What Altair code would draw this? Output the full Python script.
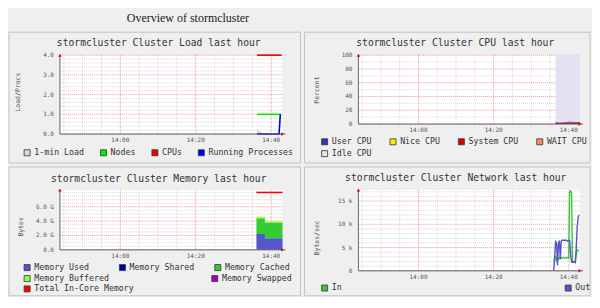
import altair as alt
import pandas as pd

MONO = "DejaVu Sans Mono"
SERIF = "Liberation Serif"
DAY = "2024-01-01T"

OVERVIEW_TITLE = "Overview of stormcluster"
PANEL_TITLES = [
    "stormcluster Cluster Load last hour",
    "stormcluster Cluster CPU last hour",
    "stormcluster Cluster Memory last hour",
    "stormcluster Cluster Network last hour",
]
Y_TITLES = ["Load/Procs", "Percent", "Bytes", "Bytes/sec"]

X_START = "13:44"
X_END = "14:43"
X_LABELS = ["14:00", "14:20", "14:40"]
X_MINOR = ["13:45", "13:50", "13:55", "14:05", "14:10", "14:15",
           "14:25", "14:30", "14:35"]

# ---------------- Load panel ----------------
LOAD_SERIES = ["1-min Load", "Nodes", "CPUs", "Running Processes"]
LOAD_COLORS = ["#dcdcdc", "#00ee00", "#ee0000", "#0000ee"]
LOAD1_T = ["14:36:15", "14:36:45", "14:37:15", "14:37:45", "14:38:15"]
LOAD1_V = [0.25, 0.2, 0.12, 0.05, 0.0]
NODES_T = ["14:36:15", "14:42:30"]
NODES_V = [1.0, 1.0]
CPUS_T = ["14:36:15", "14:42:45"]
CPUS_V = [4.0, 4.0]
PROCS_T = ["14:36:15", "14:42:05", "14:42:25"]
PROCS_V = [0.0, 0.0, 1.0]
LOAD_Y_LABELS = [0.0, 1.0, 2.0, 3.0, 4.0]
LOAD_Y_TEXT = ["0.0", "1.0", "2.0", "3.0", "4.0"]
LOAD_Y_MINOR = [0.2, 0.4, 0.6, 0.8, 1.2, 1.4, 1.6, 1.8, 2.2, 2.4, 2.6, 2.8,
                3.2, 3.4, 3.6, 3.8]

# ---------------- CPU panel ----------------
CPU_SERIES = ["User CPU", "Nice CPU", "System CPU", "WAIT CPU", "Idle CPU"]
CPU_COLORS = ["#3333bb", "#ffea00", "#dd0000", "#ff8a60", "#e2e2f2"]
CPU_T = ["14:36:30", "14:37:30", "14:38:30", "14:39:30", "14:40:30",
         "14:41:30", "14:42:30", "14:43:00"]
CPU_USER = [2.0, 1.6, 1.8, 2.1, 2.4, 1.9, 2.0, 2.0]
CPU_NICE = [0, 0, 0, 0, 0, 0, 0, 0]
CPU_SYSTEM = [1.0, 0.8, 0.9, 1.1, 1.3, 1.0, 0.9, 0.9]
CPU_WAIT = [0.2, 0.2, 0.2, 0.2, 0.2, 0.2, 0.2, 0.2]
CPU_IDLE = [96.8, 97.4, 97.1, 96.6, 96.1, 96.9, 96.9, 96.9]
CPU_Y_LABELS = [0, 20, 40, 60, 80, 100]
CPU_Y_TEXT = ["0", "20", "40", "60", "80", "100"]
CPU_Y_MINOR = [10, 30, 50, 70, 90]

# ---------------- Memory panel ----------------
MEM_SERIES = ["Memory Used", "Memory Shared", "Memory Cached",
              "Memory Buffered", "Memory Swapped"]
MEM_COLORS = ["#5555cc", "#0000aa", "#33cc33", "#99ff33", "#9900cc"]
MEM_T = ["14:36:05", "14:38:20", "14:43:00"]
MEM_USED = [2.2, 1.6, 1.6]
MEM_SHARED = [0.0, 0.0, 0.0]
MEM_CACHED = [2.2, 2.2, 2.2]
MEM_BUFFERED = [0.2, 0.2, 0.2]
MEM_SWAPPED = [0.0, 0.0, 0.0]
TOTAL_SERIES = ["Total In-Core Memory"]
TOTAL_COLORS = ["#ff0000"]
TOTAL_T = ["14:36:05", "14:43:00"]
TOTAL_V = [8.0, 8.0]
MEM_Y_LABELS = [0.0, 2.0, 4.0, 6.0]
MEM_Y_TEXT = ["0.0", "2.0 G", "4.0 G", "6.0 G"]
MEM_Y_MINOR = [0.5, 1.0, 1.5, 2.5, 3.0, 3.5, 4.5, 5.0, 5.5, 6.5, 7.0, 7.5, 8.0]

# ---------------- Network panel ----------------
NET_SERIES = ["In", "Out"]
NET_COLORS = ["#33cc33", "#5555cc"]
NET_T = ["14:36:00", "14:36:15", "14:36:30", "14:36:45", "14:37:00", "14:37:15",
         "14:37:30", "14:37:45", "14:38:00", "14:38:15", "14:38:30", "14:38:45",
         "14:39:00", "14:39:15", "14:39:30", "14:39:45", "14:40:00", "14:40:15",
         "14:40:30", "14:40:45", "14:41:00", "14:41:15", "14:41:30", "14:41:45",
         "14:42:00", "14:42:15", "14:42:30", "14:42:45"]
NET_IN = [2200, 2600, 3000, 2000, 3200, 2500, 2800, 2600,
          2800, 2700, 2900, 2800, 2700, 2800, 2900, 2800,
          2700, 17000, 17200, 16800, 2000, 1800, 1900, 2000,
          3500, 4500, 4400, 4400]
NET_OUT = [0, 3000, 6300, 6000, 1200, 5800, 6500, 2500,
           6400, 6600, 6500, 6600, 6500, 6600, 6500, 6400,
           6600, 6500, 3500, 1900, 1800, 1900, 2000, 1800,
           5000, 9500, 11500, 12000]
NET_Y_LABELS = [0, 5000, 10000, 15000]
NET_Y_TEXT = ["0", "5 k", "10 k", "15 k"]
NET_Y_MINOR = [1000, 2000, 3000, 4000, 6000, 7000, 8000, 9000,
               11000, 12000, 13000, 14000, 16000, 17000]

# ---------------- styles ----------------
BG = "#efefef"
FRAME = "#c4c4c4"
MAJOR = "#ee9a9a"
MINOR = "#d8d8d8"
AXIS_TXT = "#555555"
AXIS_LINE = "#666666"


def dt(hm):
    parts = [int(p) for p in hm.split(":")]
    return alt.DateTime(year=2024, month=1, date=1, hours=parts[0], minutes=parts[1])


def long_table(times, names, series):
    rows = []
    for k, (name, vals) in enumerate(zip(names, series)):
        for ts, v in zip(times, vals):
            rows.append({"t": DAY + ts, "series": name, "v": v, "k": k})
    return pd.DataFrame(rows)


def single_table(times, name, vals):
    return pd.DataFrame({"t": [DAY + s for s in times], "series": name, "v": vals})


X_SCALE = alt.Scale(domain=[dt(X_START), dt(X_END)], nice=False)


def xenc():
    return alt.X("t:T", scale=X_SCALE, axis=None)


def yenc(sc, **kw):
    return alt.Y("v:Q", scale=sc, axis=None, **kw)


def grid_layers(y_scale, y_minor, y_major):
    xm = pd.DataFrame({"t": [DAY + s + ":00" for s in X_MINOR]})
    xM = pd.DataFrame({"t": [DAY + s + ":00" for s in X_LABELS]})
    ym = pd.DataFrame({"v": y_minor})
    yM = pd.DataFrame({"v": y_major})
    return [
        alt.Chart(xm).mark_rule(color=MINOR, strokeDash=[1, 1], strokeWidth=1).encode(x=xenc()),
        alt.Chart(ym).mark_rule(color=MINOR, strokeDash=[1, 1], strokeWidth=1).encode(y=yenc(y_scale)),
        alt.Chart(xM).mark_rule(color=MAJOR, strokeDash=[1, 1], strokeWidth=1).encode(x=xenc()),
        alt.Chart(yM).mark_rule(color=MAJOR, strokeDash=[1, 1], strokeWidth=1).encode(y=yenc(y_scale)),
    ]


def axis_layers(idx, w, h, y_scale, y_vals, y_text, title_xy):
    adf = pd.DataFrame({"title": [Y_TITLES[idx]]})
    xl = pd.DataFrame({"t": [DAY + s + ":00" for s in X_LABELS], "lab": X_LABELS})
    yl = pd.DataFrame({"v": y_vals, "lab": y_text})
    y_dom = alt.Chart(adf).mark_rule(color=AXIS_LINE, strokeWidth=1).encode(
        x=alt.value(0), y=alt.value(0), y2=alt.value(h))
    x_dom = alt.Chart(adf).mark_rule(color=AXIS_LINE, strokeWidth=1).encode(
        x=alt.value(0), x2=alt.value(w + 3), y=alt.value(h))
    x_lab = alt.Chart(xl).mark_text(font=MONO, fontSize=6, color=AXIS_TXT,
                                    align="center", baseline="middle").encode(
        x=xenc(), y=alt.value(h + 6), text="lab:N")
    y_lab = alt.Chart(yl).mark_text(font=MONO, fontSize=6, color=AXIS_TXT,
                                    align="right", baseline="middle").encode(
        y=yenc(y_scale), x=alt.value(-6), text="lab:N")
    y_tit = alt.Chart(adf).mark_text(font=MONO, fontSize=6.5, color=AXIS_TXT, angle=270,
                                     align="center", baseline="middle").encode(
        x=alt.value(title_xy[0]), y=alt.value(title_xy[1]), text="title:N")
    return [y_dom, x_dom, x_lab, y_lab, y_tit]


def legend_layer(names, colors, lx, ly, columns, colpad, grid_align="each"):
    df = pd.DataFrame({"series": names})
    return alt.Chart(df).mark_point(filled=True, opacity=0).encode(
        color=alt.Color(
            "series:N", sort=names,
            scale=alt.Scale(domain=names, range=colors),
            legend=alt.Legend(
                title=None, orient="none", legendX=lx, legendY=ly,
                direction="horizontal", columns=columns, columnPadding=colpad,
                gridAlign=grid_align, symbolType="square", symbolSize=36,
                labelFont=MONO, labelFontSize=8.3, labelColor="#333333",
                labelOffset=3, rowPadding=2, padding=0,
                symbolOpacity=1, symbolStrokeColor="#333333", symbolStrokeWidth=0.8,
            ),
        )
    )


def arrows(y_scale, y_max):
    top = pd.DataFrame({"t": [DAY + X_START + ":00"], "v": [y_max]})
    right = pd.DataFrame({"t": [DAY + X_END + ":00"], "v": [0]})
    a1 = alt.Chart(top).mark_point(shape="triangle-up", size=12, filled=True,
                                   color="#dd0000", opacity=1).encode(x=xenc(), y=yenc(y_scale))
    a2 = alt.Chart(right).mark_point(shape="triangle-right", size=12, filled=True,
                                     color="#dd0000", opacity=1).encode(x=xenc(), y=yenc(y_scale))
    return [a1, a2]


def panel(idx, w, h, data_layers, legends, y_scale, y_minor, y_major, y_text,
          title_xy, ytitle_xy, box):
    tdf = pd.DataFrame({"title": [PANEL_TITLES[idx]]})
    fr = alt.Chart(tdf).mark_rect(filled=False, color=FRAME, strokeWidth=1).encode(
        x=alt.value(box[0]), x2=alt.value(box[1]), y=alt.value(box[2]), y2=alt.value(box[3]))
    bgr = alt.Chart(tdf).mark_rect(fill="white").encode(
        x=alt.value(0), x2=alt.value(w), y=alt.value(0), y2=alt.value(h))
    tt = alt.Chart(tdf).mark_text(font=MONO, fontSize=9.7, color="#333333",
                                  align="center", baseline="alphabetic").encode(
        text="title:N", x=alt.value(title_xy[0]), y=alt.value(title_xy[1]))
    layers = [fr, bgr, tt, *grid_layers(y_scale, y_minor, y_major), *data_layers,
              *axis_layers(idx, w, h, y_scale, y_major, y_text, ytitle_xy),
              *arrows(y_scale, y_scale.domain[1]), *legends]
    return alt.layer(*layers).resolve_scale(color="independent").properties(width=w, height=h)


W_L, W_R = 223, 222
H_LOAD, H_CPU, H_MEM, H_NET = 79, 69, 60, 81

# ---- Load
y_load = alt.Scale(domain=[0, 4], nice=False)
load_lines_df = pd.concat([
    single_table(CPUS_T, LOAD_SERIES[2], CPUS_V),
    single_table(NODES_T, LOAD_SERIES[1], NODES_V),
    single_table(PROCS_T, LOAD_SERIES[3], PROCS_V),
])
load_area = alt.Chart(single_table(LOAD1_T, LOAD_SERIES[0], LOAD1_V)).mark_area(
    color=LOAD_COLORS[0], opacity=1).encode(x=xenc(), y=yenc(y_load))
load_lines = alt.Chart(load_lines_df).mark_line(strokeWidth=1.6).encode(
    x=xenc(), y=yenc(y_load),
    color=alt.Color("series:N", scale=alt.Scale(domain=LOAD_SERIES, range=LOAD_COLORS), legend=None))
load_panel = panel(0, W_L, H_LOAD, [load_area, load_lines],
                   [legend_layer(LOAD_SERIES, LOAD_COLORS, -37, 93.5, 4, 13.5)],
                   y_load, LOAD_Y_MINOR, LOAD_Y_LABELS, LOAD_Y_TEXT,
                   (99, -9.5), (-42, 37), (-51, W_L + 18, -23, H_LOAD + 29))

# ---- CPU
y_cpu = alt.Scale(domain=[0, 100], nice=False)
cpu_df = long_table(CPU_T, CPU_SERIES, [CPU_USER, CPU_NICE, CPU_SYSTEM, CPU_WAIT, CPU_IDLE])
cpu_area = alt.Chart(cpu_df).mark_area(opacity=1).encode(
    x=xenc(), y=yenc(y_cpu, stack="zero"),
    color=alt.Color("series:N", scale=alt.Scale(domain=CPU_SERIES, range=CPU_COLORS), legend=None),
    order=alt.Order("k:Q"))
cpu_panel = panel(1, W_R, H_CPU, [cpu_area],
                  [legend_layer(CPU_SERIES, CPU_COLORS, -38, 82.5, 4, 15.5)],
                  y_cpu, CPU_Y_MINOR, CPU_Y_LABELS, CPU_Y_TEXT,
                  (97, -9.5), (-41, 35), (-54, W_R + 10, -23, H_CPU + 39))

# ---- Memory
y_mem = alt.Scale(domain=[0, 8.35], nice=False)
mem_df = long_table(MEM_T, MEM_SERIES, [MEM_USED, MEM_SHARED, MEM_CACHED, MEM_BUFFERED, MEM_SWAPPED])
mem_area = alt.Chart(mem_df).mark_area(opacity=1, interpolate="step-after").encode(
    x=xenc(), y=yenc(y_mem, stack="zero"),
    color=alt.Color("series:N", scale=alt.Scale(domain=MEM_SERIES, range=MEM_COLORS), legend=None),
    order=alt.Order("k:Q"))
mem_total = alt.Chart(single_table(TOTAL_T, TOTAL_SERIES[0], TOTAL_V)).mark_line(
    color=TOTAL_COLORS[0], strokeWidth=1.6).encode(x=xenc(), y=yenc(y_mem))
mem_panel = panel(2, W_L, H_MEM, [mem_area, mem_total],
                  [legend_layer(MEM_SERIES[:3], MEM_COLORS[:3], -37, 73.5, 3, 17.5, "all"),
                   legend_layer(MEM_SERIES[3:], MEM_COLORS[3:], -37, 84.5, 2, 100),
                   legend_layer(TOTAL_SERIES, TOTAL_COLORS, -37, 95, 1, 10)],
                  y_mem, MEM_Y_MINOR, MEM_Y_LABELS, MEM_Y_TEXT,
                  (99, -7.5), (-39, 37), (-51, W_L + 18, -23, H_MEM + 46))

# ---- Network
y_net = alt.Scale(domain=[0, 17400], nice=False)
net_df = long_table(NET_T, NET_SERIES, [NET_IN, NET_OUT])
net_lines = alt.Chart(net_df).mark_line(strokeWidth=1.4).encode(
    x=xenc(), y=yenc(y_net),
    color=alt.Color("series:N", scale=alt.Scale(domain=NET_SERIES, range=NET_COLORS), legend=None))
net_panel = panel(3, W_R, H_NET, [net_lines],
                  [legend_layer(NET_SERIES, NET_COLORS, -38, 94, 2, 221)],
                  y_net, NET_Y_MINOR, NET_Y_LABELS, NET_Y_TEXT,
                  (97.5, -8.5), (-41, 48), (-54, W_R + 10, -23, H_NET + 25))

chart = alt.concat(
    load_panel, cpu_panel, mem_panel, net_panel,
    columns=2, spacing={"row": 56, "column": 76}, bounds="flush",
).properties(
    title=alt.TitleParams(OVERVIEW_TITLE, anchor="start", dx=119, offset=-3, font=SERIF,
                          fontSize=12, fontWeight="normal", color="#222222",
                          baseline="alphabetic"),
    padding={"left": 0, "top": 4, "right": 0, "bottom": 0},
    background=BG,
).configure_view(stroke="transparent", fill="white")

chart.save("out.html", embed_options={"renderer": "svg", "actions": False})
